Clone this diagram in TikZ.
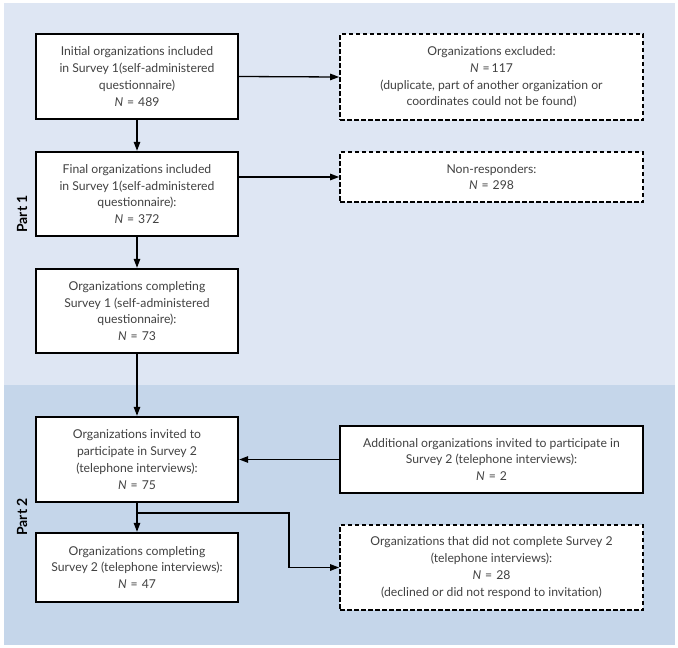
\documentclass[tikz,border=0pt]{standalone}
\usepackage{fontspec}
\setmainfont{Lato}
\usetikzlibrary{arrows.meta}
\definecolor{bgA}{RGB}{222,230,243}
\definecolor{bgB}{RGB}{197,214,234}
\definecolor{txt}{RGB}{65,65,65}
\tikzset{
  box/.style={draw=black, line width=2.4pt, fill=white, align=center, text=txt,
    font=\fontsize{12.2}{16.8}\selectfont, inner sep=2pt},
  dbox/.style={box, line width=1.8pt, dash pattern=on 4.5pt off 2.5pt},
  conn/.style={line width=1.3pt, -{Triangle[length=9pt,width=6.5pt]}},
  partlbl/.style={rotate=90, font=\bfseries\fontsize{14}{16}\selectfont, text=black}
}
\newcommand{\NN}[1]{{\itshape N}\hspace{4pt}=\hspace{4pt}#1}
\begin{document}
\begin{tikzpicture}[x=1pt,y=-1pt]
\useasboundingbox (0,0) rectangle (678,648);
\fill[white] (0,0) rectangle (678,648);
\fill[bgA] (4,3) rectangle (675,385);
\fill[bgB] (4,385) rectangle (675,645);

\node[partlbl] (p1) at (22,214) {Part 1};
\node[partlbl] (p2) at (22,517) {Part 2};

\node[box, minimum width=202pt, minimum height=85pt] (b1) at (137,76.5)
  {Initial organizations included\\in Survey 1(self-administered\\questionnaire)\\\NN{489}};
\node[box, minimum width=202pt, minimum height=84pt] (b2) at (137,194)
  {Final organizations included\\in Survey 1(self-administered\\questionnaire):\\\NN{372}};
\node[box, minimum width=202pt, minimum height=84pt] (b3) at (137,311)
  {Organizations completing\\Survey 1 (self-administered\\questionnaire):\\\NN{73}};
\node[box, minimum width=202pt, minimum height=85pt] (b4) at (137,459.5)
  {Organizations invited to\\participate in Survey 2\\(telephone interviews):\\\NN{75}};
\node[box, minimum width=202pt, minimum height=69pt] (b5) at (137,567.5)
  {Organizations completing\\Survey 2 (telephone interviews):\\\NN{47}};

\node[dbox, minimum width=303pt, minimum height=86pt] (ex) at (491.5,77)
  {Organizations excluded:\\{\itshape N}\hspace{4pt}=\hspace{2pt}117\\(duplicate, part of another organization or\\coordinates could not be found)};
\node[dbox, minimum width=303pt, minimum height=50pt] (nr) at (491.5,177)
  {Non-responders:\\\NN{298}};
\node[box, minimum width=303pt, minimum height=67pt] (ad) at (491.5,459.5)
  {Additional organizations invited to participate in\\Survey 2 (telephone interviews):\\\NN{2}};
\node[dbox, minimum width=303pt, minimum height=85pt] (dn) at (491.5,567.5)
  {Organizations that did not complete Survey 2\\(telephone interviews):\\\NN{28}\\(declined or did not respond to invitation)};

\draw[conn] (b1) -- (b2);
\draw[conn] (b2) -- (b3);
\draw[conn] (b3) -- (b4);
\draw[conn] (b4) -- (b5);
\draw[conn] (b1.east) -- (ex.west);
\draw[conn] (b2.east |- nr.west) -- (nr.west);
\draw[conn] (ad.west) -- (b4.east);
\coordinate (br) at (137,513);
\coordinate (turn) at (289,513);
\draw[conn] (br) -- (turn) |- (dn.west);
\end{tikzpicture}
\end{document}
